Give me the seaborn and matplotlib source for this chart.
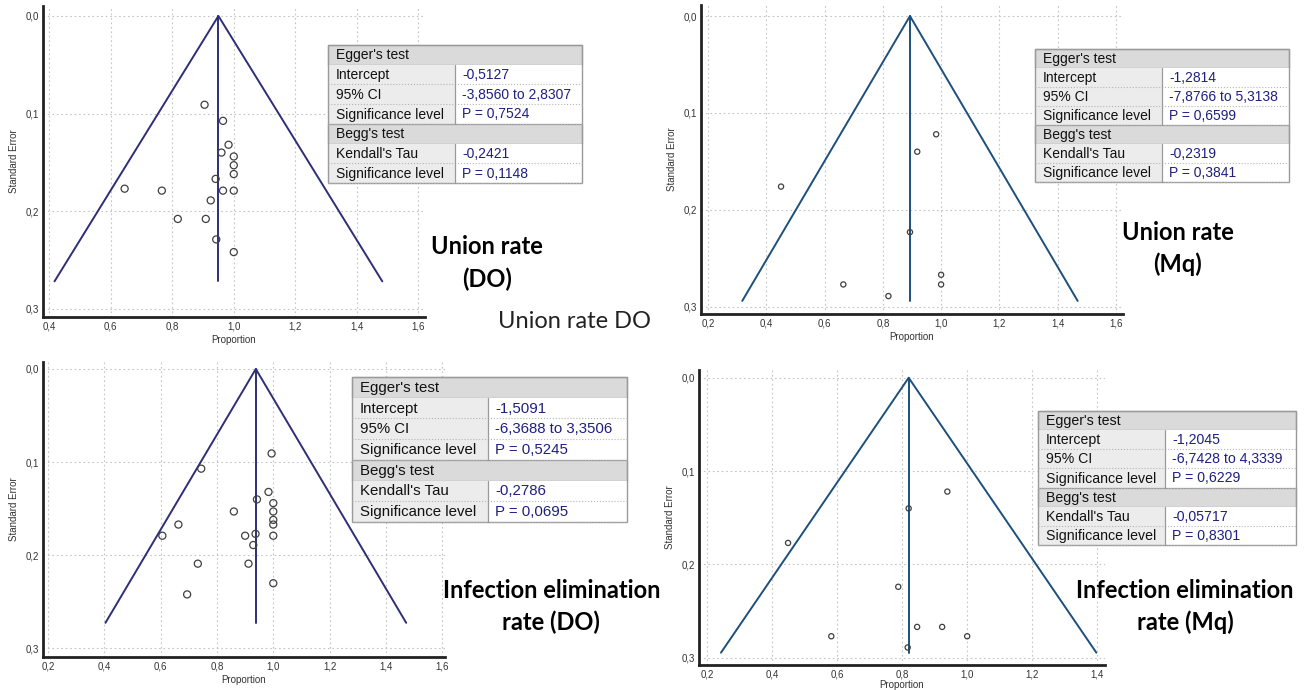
import numpy as np
import matplotlib
matplotlib.use('Agg')
import matplotlib.pyplot as plt
from matplotlib.patches import Rectangle
from matplotlib.ticker import MultipleLocator, FuncFormatter
import seaborn as sns

# ---- data ----
union_do_prop = [0.905, 0.965, 0.983, 0.960, 1.0, 1.0, 1.0, 0.941, 0.645, 0.766,
                 0.965, 1.0, 0.925, 0.818, 0.909, 0.943, 1.0]
union_do_se = [0.091, 0.1075, 0.132, 0.140, 0.144, 0.153, 0.162, 0.167, 0.177, 0.179,
               0.179, 0.179, 0.189, 0.208, 0.208, 0.229, 0.242]

union_mq_prop = [0.983, 0.918, 0.450, 0.893, 1.0, 1.0, 0.664, 0.819]
union_mq_se = [0.122, 0.140, 0.176, 0.223, 0.267, 0.277, 0.277, 0.289]

infect_do_prop = [0.994, 0.744, 0.983, 0.942, 1.0, 1.0, 0.860, 1.0, 1.0, 0.663,
                  0.606, 0.900, 0.937, 1.0, 0.929, 0.732, 0.912, 1.0, 0.694]
infect_do_se = [0.0907, 0.107, 0.132, 0.140, 0.144, 0.153, 0.153, 0.162, 0.167, 0.167,
                0.179, 0.179, 0.177, 0.179, 0.189, 0.209, 0.209, 0.230, 0.242]

infect_mq_prop = [0.939, 0.820, 0.449, 0.788, 0.846, 0.923, 0.582, 1.0, 0.817]
infect_mq_se = [0.122, 0.140, 0.177, 0.224, 0.267, 0.267, 0.277, 0.277, 0.289]

# pooled proportion and the SE where the funnel stops
pooled = [0.95, 0.893, 0.938, 0.82]
funnel_se = [0.272, 0.294, 0.2725, 0.2946]

table_labels = ["Egger's test", "Intercept", "95% CI", "Significance level",
                "Begg's test", "Kendall's Tau", "Significance level"]
union_do_stats = [None, "-0,5127", "-3,8560 to 2,8307", "P = 0,7524", None, "-0,2421", "P = 0,1148"]
union_mq_stats = [None, "-1,2814", "-7,8766 to 5,3138", "P = 0,6599", None, "-0,2319", "P = 0,3841"]
infect_do_stats = [None, "-1,5091", "-6,3688 to 3,3506", "P = 0,5245", None, "-0,2786", "P = 0,0695"]
infect_mq_stats = [None, "-1,2045", "-6,7428 to 4,3339", "P = 0,6229", None, "-0,05717", "P = 0,8301"]

W, H = 1309, 690

sns.set_style('white')
plt.rcParams['font.family'] = ['Liberation Sans', 'DejaVu Sans']

fig = plt.figure(figsize=(W / 100, H / 100), dpi=100)


def comma(v, _):
    return f'{v:.1f}'.replace('.', ',')


def funnel(box, xlim, ylim, prop, se, pooled_p, se_max, line_color, msize, xpad=3):
    left, top, right, bottom = box
    ax = fig.add_axes([left / W, 1 - bottom / H, (right - left) / W, (bottom - top) / H])
    ax.set_xlim(*xlim)
    ax.set_ylim(*ylim)
    ax.grid(True, which='major', color='#c4c4c4', linestyle=(0, (1.5, 2.5)), linewidth=0.8)
    ax.set_axisbelow(True)

    # funnel and pooled estimate
    ax.plot([pooled_p - 1.96 * se_max, pooled_p, pooled_p + 1.96 * se_max],
            [se_max, 0, se_max], color=line_color, lw=1.4, zorder=2)
    ax.plot([pooled_p, pooled_p], [0, se_max], color=line_color, lw=1.4, zorder=2)

    sns.scatterplot(x=prop, y=se, ax=ax, s=msize, facecolor='none',
                    edgecolor='#404040', linewidth=0.9, zorder=3)

    for s in ['top', 'right']:
        ax.spines[s].set_visible(False)
    for s in ['left', 'bottom']:
        ax.spines[s].set_color('#222222')
        ax.spines[s].set_linewidth(2)
    ax.xaxis.set_major_locator(MultipleLocator(0.2))
    ax.xaxis.set_minor_locator(MultipleLocator(0.1))
    ax.yaxis.set_major_locator(MultipleLocator(0.1))
    ax.yaxis.set_minor_locator(MultipleLocator(0.05))
    ax.xaxis.set_major_formatter(FuncFormatter(comma))
    ax.yaxis.set_major_formatter(FuncFormatter(comma))
    ax.tick_params(which='major', direction='in', length=6, width=1.4, color='#222222',
                   labelsize=7, labelcolor='#333333', pad=3)
    ax.tick_params(which='minor', direction='in', length=3.5, width=1.2, color='#222222')
    ax.set_xlabel('Proportion', fontsize=7, color='#333333', labelpad=xpad)
    ax.set_ylabel('Standard Error', fontsize=7, color='#333333', labelpad=5)
    return ax


funnel((43, 6, 425, 317), (0.3795, 1.622), (0.3085, -0.0102),
       union_do_prop, union_do_se, pooled[0], funnel_se[0], '#2e2e78', 26)
funnel((701, 5, 1123, 314), (0.175, 1.625), (0.3075, -0.0114),
       union_mq_prop, union_mq_se, pooled[1], funnel_se[1], '#1d4f7c', 14)
funnel((43, 362, 445, 657), (0.182, 1.61), (0.3092, -0.0075),
       infect_do_prop, infect_do_se, pooled[2], funnel_se[2], '#2e2e78', 26)
funnel((699, 370, 1105, 665), (0.175, 1.424), (0.3078, -0.0083),
       infect_mq_prop, infect_mq_se, pooled[3], funnel_se[3], '#1d4f7c', 14, xpad=0.5)

# overlay in pixel coordinates for the tables and captions
ov = fig.add_axes([0, 0, 1, 1])
ov.set_xlim(0, W)
ov.set_ylim(H, 0)
ov.axis('off')
ov.set_zorder(10)
ov.patch.set_alpha(0)


def stats_table(box, split, values, fs):
    x0, y0, x1, y1 = box
    h = (y1 - y0) / len(table_labels)
    for i, (lab, val) in enumerate(zip(table_labels, values)):
        top = y0 + i * h
        if val is None:
            ov.add_patch(Rectangle((x0, top), x1 - x0, h, facecolor='#dadada',
                                   edgecolor='#9a9a9a', lw=0.9))
        else:
            ov.add_patch(Rectangle((x0, top), split - x0, h, facecolor='#ececec', edgecolor='none'))
            ov.add_patch(Rectangle((split, top), x1 - split, h, facecolor='white', edgecolor='none'))
            ov.plot([x0, x1], [top + h, top + h], color='#b5b5b5', ls=':', lw=0.8)
            ov.plot([split, split], [top, top + h], color='#9a9a9a', lw=0.9)
            ov.text(split + 7, top + h / 2 + 0.5, val, color='#1f1f82', fontsize=fs,
                    va='center', ha='left')
        ov.text(x0 + 8, top + h / 2 + 0.5, lab, color='#111111', fontsize=fs,
                va='center', ha='left')
    ov.add_patch(Rectangle((x0, y0), x1 - x0, y1 - y0, facecolor='none',
                           edgecolor='#9a9a9a', lw=1.0))


stats_table((328, 45, 582, 183), 455, union_do_stats, 10)
stats_table((1035, 49, 1289, 182), 1162, union_mq_stats, 10)
stats_table((352, 377, 627, 522), 488, infect_do_stats, 10.8)
stats_table((1038, 411, 1296, 545), 1165, infect_mq_stats, 10.2)

cap = dict(family=['Lato', 'DejaVu Sans'], fontweight='bold', fontsize=17,
           ha='center', va='center', color='black')
ov.text(487, 247, 'Union rate', **cap)
ov.text(487, 279, '(DO)', **cap)
ov.text(1178, 233, 'Union rate', **cap)
ov.text(1178, 264, '(Mq)', **cap)
ov.text(552, 590, 'Infection elimination', **cap)
ov.text(551, 622, 'rate (DO)', **cap)
ov.text(1185, 591, 'Infection elimination', **cap)
ov.text(1185, 622, 'rate (Mq)', **cap)
ov.text(574, 321, 'Union rate DO', family=['Lato', 'DejaVu Sans'], fontsize=17,
        ha='center', va='center', color='#222222')

fig.savefig('out.png', dpi=100)
